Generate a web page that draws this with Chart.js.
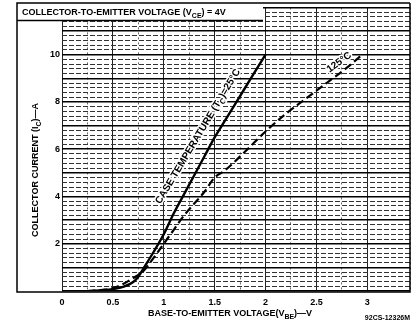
<!DOCTYPE html>
<html>
<head>
<meta charset="utf-8">
<script src="https://cdn.jsdelivr.net/npm/chart.js@4"></script>
<style>
  html, body { margin: 0; padding: 0; background: #fff; }
  #wrap { width: 418px; height: 327px; }
</style>
</head>
<body>
<div id="wrap"><canvas id="chart" width="418" height="327"></canvas></div>
<script>
// ===== DATA =====
// case temperature 25 C  (solid line)
const vbe25 = [0.3, 0.4, 0.5, 0.6, 0.7, 0.75, 0.8, 0.9, 1.0, 1.1, 1.2, 1.3, 1.4, 1.5, 1.6, 1.7, 1.8, 1.9, 2.0];
const ic25  = [0.0, 0.03, 0.08, 0.17, 0.38, 0.6, 0.95, 1.65, 2.4, 3.3, 4.1, 4.9, 5.7, 6.5, 7.2, 7.9, 8.6, 9.3, 10.0];
// case temperature 125 C  (dashed line)
const vbe125 = [0.25, 0.4, 0.5, 0.6, 0.7, 0.8, 0.9, 1.0, 1.1, 1.2, 1.3, 1.4, 1.5, 1.6, 1.8, 2.0, 2.2, 2.4, 2.6, 2.8, 2.95];
const ic125  = [0.0, 0.05, 0.12, 0.3, 0.55, 0.85, 1.4, 2.0, 2.6, 3.2, 3.7, 4.2, 4.8, 5.1, 5.9, 6.75, 7.5, 8.15, 8.8, 9.45, 10.0];

const xTickLabels = ['0', '0.5', '1', '1.5', '2', '2.5', '3'];
const yTickLabels = ['2', '4', '6', '8', '10'];

const FONT = '"Liberation Sans", Arial, sans-serif';

function toPoints(xs, ys) {
  return xs.map(function(x, i) { return { x: x, y: ys[i] }; });
}

// draws text with subscript pieces: parts = [[text, isSub], ...]
function richWidth(ctx, parts, size) {
  let w = 0;
  parts.forEach(function(p) {
    ctx.font = 'bold ' + (p[1] ? size - 2 : size) + 'px ' + FONT;
    w += ctx.measureText(p[0]).width;
  });
  return w;
}
function drawRich(ctx, parts, x, y, size, align, halo) {
  const w = richWidth(ctx, parts, size);
  let cx = align === 'center' ? x - w / 2 : (align === 'right' ? x - w : x);
  ctx.textAlign = 'left';
  ctx.textBaseline = 'alphabetic';
  parts.forEach(function(p) {
    ctx.font = 'bold ' + (p[1] ? size - 2 : size) + 'px ' + FONT;
    const ty = p[1] ? y + 3 : y;
    if (halo) {
      ctx.save();
      ctx.lineWidth = 3;
      ctx.strokeStyle = '#fff';
      ctx.strokeText(p[0], cx, ty);
      ctx.restore();
    }
    ctx.fillText(p[0], cx, ty);
    cx += ctx.measureText(p[0]).width;
  });
}

// ===== EXTRA DRAWING: frame, titles, curve labels =====
const decorPlugin = {
  id: 'decor',
  afterDraw: function(chart) {
    const ctx = chart.ctx;
    const area = chart.chartArea;
    const xs = chart.scales.x;
    const ys = chart.scales.y;
    ctx.save();
    ctx.fillStyle = '#000';
    ctx.strokeStyle = '#000';

    // title box (top left)
    ctx.fillStyle = '#fff';
    ctx.fillRect(17, 3, 246, 17);
    ctx.fillStyle = '#000';
    ctx.lineWidth = 1.5;
    ctx.beginPath();
    ctx.moveTo(17, 20.5); ctx.lineTo(263, 20.5);
    ctx.stroke();
    drawRich(ctx, [['COLLECTOR-TO-EMITTER VOLTAGE (V', false], ['CE', true], [') = 4V', false]], 22, 15, 9, 'left');

    // outer frame
    ctx.lineWidth = 1.5;
    ctx.beginPath();
    ctx.moveTo(area.right, 3);
    ctx.lineTo(17, 3);
    ctx.lineTo(17, area.bottom + 1);
    ctx.lineTo(area.right, area.bottom + 1);
    ctx.lineTo(area.right, 3);
    ctx.stroke();

    // axis titles
    drawRich(ctx, [['BASE-TO-EMITTER VOLTAGE(V', false], ['BE', true], [')\u2014V', false]], 230, 316, 9, 'center');
    ctx.save();
    ctx.translate(38, 170);
    ctx.rotate(-Math.PI / 2);
    drawRich(ctx, [['COLLECTOR CURRENT (I', false], ['C', true], [')\u2014A', false]], 0, 0, 9, 'center');
    ctx.restore();

    ctx.font = 'bold 7px ' + FONT;
    ctx.textAlign = 'right';
    ctx.fillText('92CS-12326M', 410, 320);

    // curve labels, placed along the curves
    function curveLabel(parts, vx, vy, angleDeg, size) {
      ctx.save();
      ctx.translate(xs.getPixelForValue(vx), ys.getPixelForValue(vy));
      ctx.rotate(angleDeg * Math.PI / 180);
      ctx.fillStyle = '#000';
      drawRich(ctx, parts, 0, 3.5, size, 'center', true);
      ctx.restore();
    }
    curveLabel([['CASE TEMPERATURE (T', false], ['C', true], [')=25\u00B0C', false]], 1.33, 6.55, -59, 10);
    curveLabel([['125\u00B0C', false]], 2.72, 9.7, -36, 10);
    ctx.restore();
  }
};

// ===== CHART =====
const ctx = document.getElementById('chart').getContext('2d');
const chart = new Chart(ctx, {
  type: 'line',
  data: {
    datasets: [
      {
        label: '25 C',
        data: toPoints(vbe25, ic25),
        borderColor: '#000',
        borderWidth: 2.4,
        pointRadius: 0,
        cubicInterpolationMode: 'monotone',
        fill: false
      },
      {
        label: '125 C',
        data: toPoints(vbe125, ic125),
        borderColor: '#000',
        borderWidth: 2.2,
        borderDash: [8, 4],
        pointRadius: 0,
        cubicInterpolationMode: 'monotone',
        fill: false
      }
    ]
  },
  options: {
    responsive: false,
    animation: false,
    layout: { padding: { left: 0, right: 8, top: 4, bottom: 0 } },
    plugins: {
      legend: { display: false },
      tooltip: { enabled: false }
    },
    scales: {
      x: {
        type: 'linear',
        min: 0,
        max: 3.42,
        afterFit: function(s) { s.height = 36; },
        border: {
          display: false,
          dash: function(c) { return c.tick && Math.abs(c.tick.value * 2 - Math.round(c.tick.value * 2)) < 1e-6 ? [] : [2, 3]; }
        },
        grid: {
          drawTicks: false,
          color: function(c) {
            if (!c.tick) return '#000';
            const v = c.tick.value;
            return Math.abs(v * 2 - Math.round(v * 2)) < 1e-6 ? '#222' : '#666';
          },
          lineWidth: 1
        },
        ticks: {
          stepSize: 0.25,
          autoSkip: false,
          maxRotation: 0,
          padding: 6,
          color: '#000',
          font: { family: FONT, size: 9, weight: 'bold' },
          callback: function(v) {
            const k = Math.round(v * 2);
            if (Math.abs(v * 2 - k) > 1e-6) return '';
            return xTickLabels[k] !== undefined ? xTickLabels[k] : '';
          }
        }
      },
      y: {
        type: 'linear',
        min: 0,
        max: 12,
        afterFit: function(s) { s.width = 62; },
        border: {
          display: false,
          dash: function(c) {
            if (!c.tick) return [];
            const v = c.tick.value;
            return Math.abs(v - Math.round(v)) < 1e-6 ? [] : [5, 2];
          }
        },
        grid: {
          drawTicks: false,
          color: function(c) {
            if (!c.tick) return '#000';
            const v = c.tick.value;
            return Math.abs(v - Math.round(v)) < 1e-6 ? '#000' : '#333';
          },
          lineWidth: function(c) {
            if (!c.tick) return 1;
            const v = c.tick.value;
            return Math.abs(v - Math.round(v)) < 1e-6 ? 1.6 : 1;
          }
        },
        ticks: {
          stepSize: 0.2,
          autoSkip: false,
          padding: 2,
          color: '#000',
          font: { family: FONT, size: 9, weight: 'bold' },
          callback: function(v) {
            const k = Math.round(v);
            if (Math.abs(v - k) > 1e-6 || k === 0 || k % 2 !== 0) return '';
            return yTickLabels[k / 2 - 1] !== undefined ? yTickLabels[k / 2 - 1] : '';
          }
        }
      }
    }
  },
  plugins: [decorPlugin]
});
</script>
</body>
</html>
